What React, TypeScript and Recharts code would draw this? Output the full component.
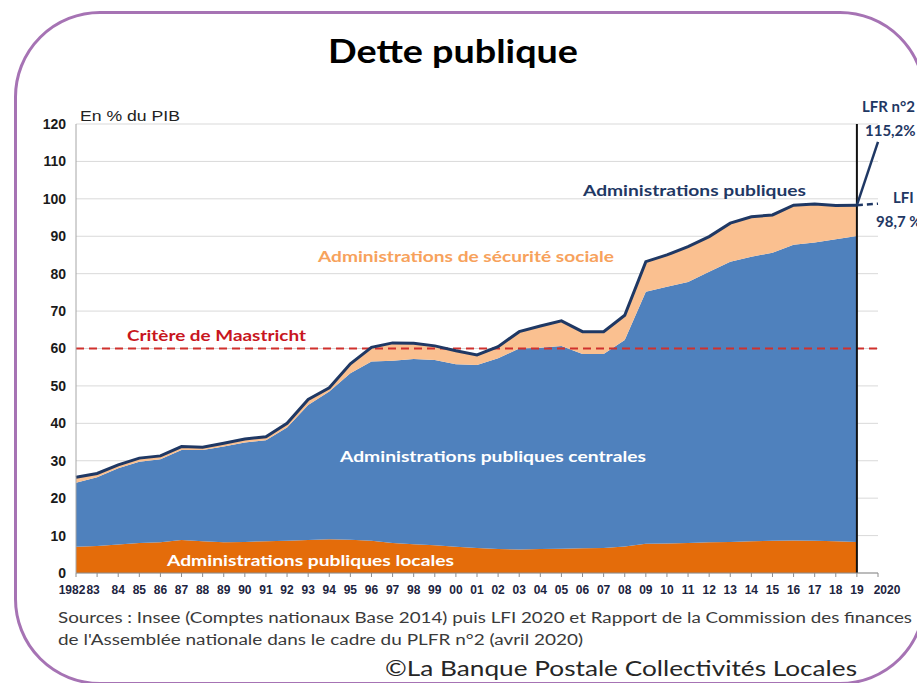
import React from "react";
import {
  ComposedChart,
  Area,
  Line,
  XAxis,
  YAxis,
  CartesianGrid,
  ReferenceLine,
} from "recharts";

const years = [
  1982, 1983, 1984, 1985, 1986, 1987, 1988, 1989, 1990, 1991, 1992, 1993, 1994,
  1995, 1996, 1997, 1998, 1999, 2000, 2001, 2002, 2003, 2004, 2005, 2006, 2007,
  2008, 2009, 2010, 2011, 2012, 2013, 2014, 2015, 2016, 2017, 2018, 2019, 2020,
];

const tickLabels = [
  "1982", "83", "84", "85", "86", "87", "88", "89", "90", "91", "92", "93", "94",
  "95", "96", "97", "98", "99", "00", "01", "02", "03", "04", "05", "06", "07",
  "08", "09", "10", "11", "12", "13", "14", "15", "16", "17", "18", "19", "2020",
];

// Administrations publiques locales (1982-2019)
const locales = [
  7.0, 7.2, 7.6, 8.0, 8.2, 8.8, 8.5, 8.2, 8.3, 8.5, 8.6, 8.8, 9.0, 8.9, 8.6, 8.0,
  7.7, 7.4, 7.0, 6.7, 6.4, 6.3, 6.4, 6.5, 6.6, 6.7, 7.1, 7.8, 7.9, 8.0, 8.2, 8.3,
  8.5, 8.6, 8.7, 8.6, 8.5, 8.3,
];

// Administrations publiques centrales (1982-2019)
const centrales = [
  17.1, 18.4, 20.4, 21.7, 22.2, 24.1, 24.4, 25.6, 26.6, 27.0, 30.3, 36.1, 39.5,
  44.5, 47.9, 48.7, 49.5, 49.5, 48.8, 48.9, 51.0, 53.7, 53.8, 54.2, 51.9, 51.8,
  55.2, 67.4, 68.6, 69.8, 72.3, 74.9, 76.0, 77.0, 79.0, 79.7, 80.7, 81.8,
];

// Administrations de sécurité sociale (1982-2019)
const securiteSociale = [
  1.5, 1.0, 0.9, 1.0, 0.9, 0.9, 0.7, 0.9, 0.9, 0.9, 1.1, 1.5, 1.0, 2.5, 3.8, 4.8,
  4.2, 3.8, 3.6, 2.7, 3.1, 4.5, 5.8, 6.7, 6.0, 6.0, 6.6, 8.0, 8.5, 9.4, 9.4, 10.3,
  10.7, 10.1, 10.6, 10.3, 9.0, 8.2,
];

// Projections 2019 -> 2020
const lfrProjection = [98.3, 115.2];
const lfiProjection = [98.3, 98.7];

const yTicks = [0, 10, 20, 30, 40, 50, 60, 70, 80, 90, 100, 110, 120];

const nProj = years.length - 2;
const data = years.map((year, i) => {
  const has = i < locales.length;
  return {
    year,
    locales: has ? locales[i] : null,
    centrales: has ? centrales[i] : null,
    securite: has ? securiteSociale[i] : null,
    total: has
      ? Math.round((locales[i] + centrales[i] + securiteSociale[i]) * 10) / 10
      : null,
    lfr: i >= nProj ? lfrProjection[i - nProj] : null,
    lfi: i >= nProj ? lfiProjection[i - nProj] : null,
  };
});

const NAVY = "#1f3864";
const BLUE = "#4f81bd";
const ORANGE = "#e46c0a";
const PEACH = "#fac090";
const RED = "#d0312d";
const CAL = "Lato, 'Open Sans', sans-serif";
const ARIAL = "'Liberation Sans', Arial, sans-serif";
const NARROW = "'Liberation Sans Narrow', 'Liberation Sans', Arial, sans-serif";

const XTick = (props: any) => {
  const { x, y, payload } = props;
  const idx = years.indexOf(payload.value);
  const label = tickLabels[idx];
  let dx = 0;
  if (payload.value === 1982) dx = -4;
  if (payload.value === 1983) dx = -4;
  if (payload.value === 2020) dx = 9;
  return (
    <text
      x={x + dx}
      y={y + 15}
      textAnchor="middle"
      fontFamily={NARROW}
      fontWeight="bold"
      fontSize={12}
      fill="#1c2440"
    >
      {label}
    </text>
  );
};

export default function App() {
  return (
    <div
      style={{
        position: "absolute",
        left: 0,
        top: 0,
        width: 917,
        height: 683,
        overflow: "hidden",
        background: "#ffffff",
      }}
    >
      <div
        style={{
          position: "absolute",
          left: 13.5,
          top: 10.5,
          width: 912,
          height: 674,
          border: "3px solid #a673b4",
          borderRadius: 86,
          boxSizing: "border-box",
        }}
      />
      <div style={{ position: "absolute", left: 0, top: 0 }}>
        <ComposedChart
          width={917}
          height={683}
          data={data}
          margin={{ top: 124, right: 39, bottom: 80, left: 0 }}
        >
          <CartesianGrid horizontal vertical={false} stroke="#d9d9d9" />
          <XAxis
            dataKey="year"
            type="category"
            interval={0}
            height={30}
            tick={<XTick />}
            tickSize={4}
            axisLine={{ stroke: "#8c8c8c" }}
            tickLine={{ stroke: "#8c8c8c" }}
          />
          <YAxis
            type="number"
            domain={[0, 120]}
            ticks={yTicks}
            interval={0}
            width={76}
            tickLine={false}
            tickMargin={4}
            axisLine={{ stroke: "#a6a6a6" }}
            tick={{
              fontFamily: ARIAL,
              fontWeight: "bold",
              fontSize: 14,
              fill: "#1a1a1a",
            }}
          />
          <Area
            type="linear"
            dataKey="locales"
            stackId="dette"
            stroke="none"
            fill={ORANGE}
            fillOpacity={1}
            isAnimationActive={false}
          />
          <Area
            type="linear"
            dataKey="centrales"
            stackId="dette"
            stroke="none"
            fill={BLUE}
            fillOpacity={1}
            isAnimationActive={false}
          />
          <Area
            type="linear"
            dataKey="securite"
            stackId="dette"
            stroke="none"
            fill={PEACH}
            fillOpacity={1}
            isAnimationActive={false}
          />
          <ReferenceLine
            y={60}
            stroke={RED}
            strokeWidth={2}
            strokeDasharray="8 5"
          />
          <ReferenceLine x={2019} stroke="#111111" strokeWidth={2} />
          <Line
            type="linear"
            dataKey="total"
            stroke={NAVY}
            strokeWidth={3}
            dot={false}
            isAnimationActive={false}
          />
          <Line
            type="linear"
            dataKey="lfr"
            stroke={NAVY}
            strokeWidth={2.5}
            dot={false}
            isAnimationActive={false}
          />
          <Line
            type="linear"
            dataKey="lfi"
            stroke={NAVY}
            strokeWidth={2.5}
            strokeDasharray="6 4"
            dot={false}
            isAnimationActive={false}
          />
        </ComposedChart>
      </div>
      <svg
        width={917}
        height={683}
        style={{ position: "absolute", left: 0, top: 0, pointerEvents: "none" }}
      >
        <text
          x={328}
          y={63}
          fontFamily={CAL}
          fontWeight="bold"
          fontSize={33}
          fill="#000"
          textLength={250}
          lengthAdjust="spacingAndGlyphs"
        >
          Dette publique
        </text>
        <text
          x={80}
          y={121}
          fontFamily={ARIAL}
          fontSize={15}
          fill="#222"
          textLength={100}
          lengthAdjust="spacingAndGlyphs"
        >
          En % du PIB
        </text>
        <text
          x={583}
          y={196}
          fontFamily={CAL}
          fontWeight="bold"
          fontSize={16}
          fill={NAVY}
          textLength={223}
          lengthAdjust="spacingAndGlyphs"
        >
          Administrations publiques
        </text>
        <text
          x={318}
          y={262}
          fontFamily={CAL}
          fontWeight="bold"
          fontSize={16}
          fill="#f7a25c"
          textLength={296}
          lengthAdjust="spacingAndGlyphs"
        >
          Administrations de sécurité sociale
        </text>
        <text
          x={127}
          y={341}
          fontFamily={CAL}
          fontWeight="bold"
          fontSize={16}
          fill="#c8161e"
          textLength={179}
          lengthAdjust="spacingAndGlyphs"
        >
          Critère de Maastricht
        </text>
        <text
          x={340}
          y={462}
          fontFamily={CAL}
          fontWeight="bold"
          fontSize={16}
          fill="#ffffff"
          textLength={306}
          lengthAdjust="spacingAndGlyphs"
        >
          Administrations publiques centrales
        </text>
        <text
          x={167}
          y={566}
          fontFamily={CAL}
          fontWeight="bold"
          fontSize={16}
          fill="#ffffff"
          textLength={287}
          lengthAdjust="spacingAndGlyphs"
        >
          Administrations publiques locales
        </text>
        <text x={862} y={112} fontFamily={CAL} fontWeight="bold" fontSize={15} fill={NAVY}>
          LFR n°2
        </text>
        <text x={865} y={136} fontFamily={CAL} fontWeight="bold" fontSize={15} fill={NAVY}>
          115,2%
        </text>
        <text x={893} y={203} fontFamily={CAL} fontWeight="bold" fontSize={15} fill={NAVY}>
          LFI
        </text>
        <text x={876} y={227} fontFamily={CAL} fontWeight="bold" fontSize={15} fill={NAVY}>
          98,7 %
        </text>
        <text
          x={58}
          y={623}
          fontFamily={CAL}
          fontSize={15.5}
          fill="#3a3a3a"
          textLength={854}
          lengthAdjust="spacingAndGlyphs"
        >
          Sources : Insee (Comptes nationaux Base 2014) puis LFI 2020 et Rapport de la Commission des finances
        </text>
        <text
          x={58}
          y={645}
          fontFamily={CAL}
          fontSize={15.5}
          fill="#3a3a3a"
          textLength={525}
          lengthAdjust="spacingAndGlyphs"
        >
          de l'Assemblée nationale dans le cadre du PLFR n°2 (avril 2020)
        </text>
        <text
          x={385}
          y={676}
          fontFamily={CAL}
          fontSize={22}
          fill="#262626"
          textLength={472}
          lengthAdjust="spacingAndGlyphs"
        >
          ©La Banque Postale Collectivités Locales
        </text>
      </svg>
    </div>
  );
}
